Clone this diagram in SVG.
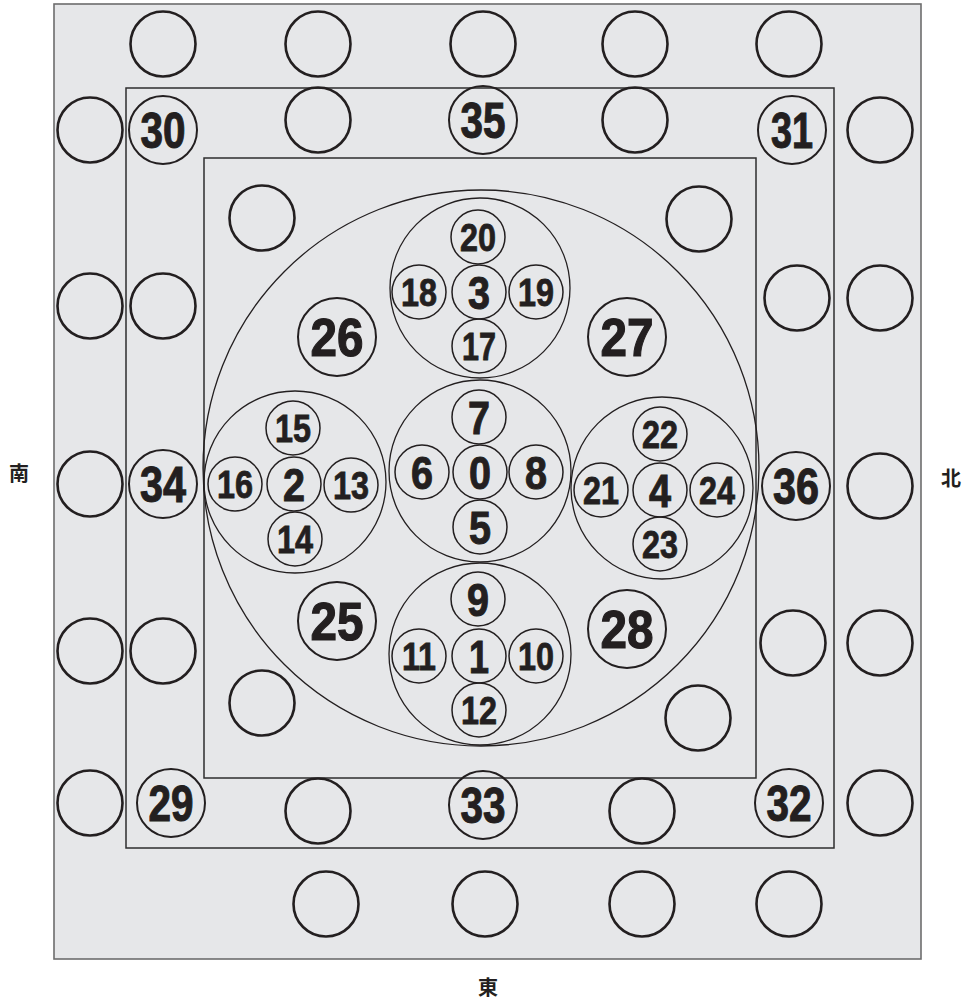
<svg xmlns="http://www.w3.org/2000/svg" width="970" height="1002" viewBox="0 0 970 1002">
<style>
.frame{fill:none;stroke:#2e2e2e;stroke-width:1.5}
.big{fill:none;stroke:#231f20;stroke-width:1.3}
.e{fill:none;stroke:#231f20;stroke-width:2.6}
.m{fill:none;stroke:#231f20;stroke-width:2}
.s{fill:none;stroke:#231f20;stroke-width:1.5}
text{font-family:"Liberation Sans",Arial,sans-serif;font-weight:bold;fill:#231f20;stroke:#231f20;stroke-width:0.9;text-anchor:middle}
.tl{font-size:54px;stroke-width:1.2}
.tm{font-size:50px;stroke-width:1.1}
.ts{font-size:38px;stroke-width:0.8}
.t1{font-size:46px;stroke-width:1}
.dir{font-family:"Noto Sans CJK JP","Noto Sans CJK SC",sans-serif;font-size:20px;font-weight:bold;stroke-width:0}
</style>
<rect x="0" y="0" width="970" height="1002" fill="#ffffff"/>
<rect x="54" y="4" width="867" height="955" fill="#e6e7e9" stroke="#6d6d6d" stroke-width="1.6"/>
<rect class="frame" x="126" y="88" width="708" height="760"/>
<rect class="frame" x="204" y="158" width="552" height="620"/>
<circle class="big" cx="481" cy="468" r="278"/>

<g id="empty-circles">
<circle class="e" cx="163" cy="44" r="32.5"/>
<circle class="e" cx="318" cy="44" r="32.5"/>
<circle class="e" cx="483" cy="44" r="32.5"/>
<circle class="e" cx="635" cy="44" r="32.5"/>
<circle class="e" cx="789" cy="44" r="32.5"/>
<circle class="e" cx="318" cy="120" r="32.5"/>
<circle class="e" cx="635" cy="120" r="32.5"/>
<circle class="e" cx="90" cy="130" r="32.5"/>
<circle class="e" cx="90" cy="306" r="32.5"/>
<circle class="e" cx="90" cy="484" r="32.5"/>
<circle class="e" cx="90" cy="651" r="32.5"/>
<circle class="e" cx="90" cy="803" r="32.5"/>
<circle class="e" cx="163" cy="306" r="32.5"/>
<circle class="e" cx="163" cy="651" r="32.5"/>
<circle class="e" cx="880" cy="130" r="32.5"/>
<circle class="e" cx="880" cy="298" r="32.5"/>
<circle class="e" cx="880" cy="486" r="32.5"/>
<circle class="e" cx="880" cy="643" r="32.5"/>
<circle class="e" cx="880" cy="803" r="32.5"/>
<circle class="e" cx="797" cy="298" r="32.5"/>
<circle class="e" cx="793" cy="643" r="32.5"/>
<circle class="e" cx="262" cy="218" r="32.5"/>
<circle class="e" cx="699" cy="219" r="32.5"/>
<circle class="e" cx="262" cy="703" r="32.5"/>
<circle class="e" cx="698" cy="718" r="32.5"/>
<circle class="e" cx="318" cy="811" r="32.5"/>
<circle class="e" cx="642" cy="811" r="32.5"/>
<circle class="e" cx="326" cy="904" r="32.5"/>
<circle class="e" cx="485" cy="904" r="32.5"/>
<circle class="e" cx="642" cy="904" r="32.5"/>
<circle class="e" cx="789" cy="904" r="32.5"/>
</g>

<g id="n30"><circle class="m" cx="163" cy="130" r="34"/><text class="tm" x="163" y="148" textLength="45" lengthAdjust="spacingAndGlyphs">30</text></g>
<g id="n35"><circle class="m" cx="483" cy="120" r="34"/><text class="tm" x="483" y="138" textLength="45" lengthAdjust="spacingAndGlyphs">35</text></g>
<g id="n31"><circle class="m" cx="792" cy="130" r="34"/><text class="tm" x="792" y="148" textLength="42" lengthAdjust="spacingAndGlyphs">31</text></g>
<g id="n34"><circle class="m" cx="163" cy="484" r="34"/><text class="tm" x="163" y="502" textLength="46" lengthAdjust="spacingAndGlyphs">34</text></g>
<g id="n36"><circle class="m" cx="796" cy="486" r="34"/><text class="tm" x="796" y="504" textLength="46" lengthAdjust="spacingAndGlyphs">36</text></g>
<g id="n29"><circle class="m" cx="171" cy="803" r="34"/><text class="tm" x="171" y="821" textLength="45" lengthAdjust="spacingAndGlyphs">29</text></g>
<g id="n33"><circle class="m" cx="483" cy="805" r="34"/><text class="tm" x="483" y="823" textLength="45" lengthAdjust="spacingAndGlyphs">33</text></g>
<g id="n32"><circle class="m" cx="789" cy="803" r="34"/><text class="tm" x="789" y="821" textLength="45" lengthAdjust="spacingAndGlyphs">32</text></g>

<g id="n26"><circle class="m" cx="337" cy="337" r="39"/><text class="tl" x="337" y="356" textLength="53" lengthAdjust="spacingAndGlyphs">26</text></g>
<g id="n27"><circle class="m" cx="627" cy="337" r="39"/><text class="tl" x="627" y="356" textLength="53" lengthAdjust="spacingAndGlyphs">27</text></g>
<g id="n25"><circle class="m" cx="337" cy="621" r="39"/><text class="tl" x="337" y="640" textLength="53" lengthAdjust="spacingAndGlyphs">25</text></g>
<g id="n28"><circle class="m" cx="627" cy="629" r="39"/><text class="tl" x="627" y="648" textLength="53" lengthAdjust="spacingAndGlyphs">28</text></g>

<g id="cluster3">
<circle class="big" cx="480" cy="288" r="90"/>
<g id="n20"><circle class="s" cx="478" cy="237" r="27"/><text class="ts" x="478" y="250.5" textLength="36" lengthAdjust="spacingAndGlyphs">20</text></g>
<g id="n18"><circle class="s" cx="419" cy="292" r="27"/><text class="ts" x="419" y="305.5" textLength="36" lengthAdjust="spacingAndGlyphs">18</text></g>
<g id="n3"><circle class="s" cx="479" cy="292" r="27"/><text class="t1" x="479" y="308.5" textLength="22" lengthAdjust="spacingAndGlyphs">3</text></g>
<g id="n19"><circle class="s" cx="536" cy="292" r="27"/><text class="ts" x="536" y="305.5" textLength="36" lengthAdjust="spacingAndGlyphs">19</text></g>
<g id="n17"><circle class="s" cx="479" cy="346" r="27"/><text class="ts" x="479" y="359.5" textLength="34" lengthAdjust="spacingAndGlyphs">17</text></g>
</g>

<g id="cluster2">
<circle class="big" cx="295" cy="482" r="91"/>
<g id="n15"><circle class="s" cx="293" cy="428" r="27"/><text class="ts" x="293" y="441.5" textLength="36" lengthAdjust="spacingAndGlyphs">15</text></g>
<g id="n16"><circle class="s" cx="235" cy="484" r="27"/><text class="ts" x="235" y="497.5" textLength="36" lengthAdjust="spacingAndGlyphs">16</text></g>
<g id="n2"><circle class="s" cx="294" cy="484" r="27"/><text class="t1" x="294" y="500.5" textLength="22" lengthAdjust="spacingAndGlyphs">2</text></g>
<g id="n13"><circle class="s" cx="351" cy="485" r="27"/><text class="ts" x="351" y="498.5" textLength="36" lengthAdjust="spacingAndGlyphs">13</text></g>
<g id="n14"><circle class="s" cx="295" cy="539" r="27"/><text class="ts" x="295" y="552.5" textLength="36" lengthAdjust="spacingAndGlyphs">14</text></g>
</g>

<g id="cluster0">
<circle class="big" cx="480" cy="471" r="91"/>
<g id="n7"><circle class="s" cx="479" cy="417" r="27"/><text class="t1" x="479" y="433.5" textLength="22" lengthAdjust="spacingAndGlyphs">7</text></g>
<g id="n6"><circle class="s" cx="422" cy="472" r="27"/><text class="t1" x="422" y="488.5" textLength="22" lengthAdjust="spacingAndGlyphs">6</text></g>
<g id="n0"><circle class="s" cx="480" cy="472" r="27"/><text class="t1" x="480" y="488.5" textLength="22" lengthAdjust="spacingAndGlyphs">0</text></g>
<g id="n8"><circle class="s" cx="536" cy="472" r="27"/><text class="t1" x="536" y="488.5" textLength="22" lengthAdjust="spacingAndGlyphs">8</text></g>
<g id="n5"><circle class="s" cx="480" cy="527" r="27"/><text class="t1" x="480" y="543.5" textLength="22" lengthAdjust="spacingAndGlyphs">5</text></g>
</g>

<g id="cluster4">
<circle class="big" cx="662" cy="488" r="91"/>
<g id="n22"><circle class="s" cx="660" cy="434" r="27"/><text class="ts" x="660" y="447.5" textLength="36" lengthAdjust="spacingAndGlyphs">22</text></g>
<g id="n21"><circle class="s" cx="601" cy="490" r="27"/><text class="ts" x="601" y="503.5" textLength="36" lengthAdjust="spacingAndGlyphs">21</text></g>
<g id="n4"><circle class="s" cx="660" cy="490" r="27"/><text class="t1" x="660" y="506.5" textLength="22" lengthAdjust="spacingAndGlyphs">4</text></g>
<g id="n24"><circle class="s" cx="717" cy="490" r="27"/><text class="ts" x="717" y="503.5" textLength="36" lengthAdjust="spacingAndGlyphs">24</text></g>
<g id="n23"><circle class="s" cx="660" cy="544" r="27"/><text class="ts" x="660" y="557.5" textLength="36" lengthAdjust="spacingAndGlyphs">23</text></g>
</g>

<g id="cluster1">
<circle class="big" cx="480" cy="654" r="91"/>
<g id="n9"><circle class="s" cx="478" cy="599" r="27"/><text class="t1" x="478" y="615.5" textLength="22" lengthAdjust="spacingAndGlyphs">9</text></g>
<g id="n11"><circle class="s" cx="419" cy="656" r="27"/><text class="ts" x="419" y="669.5" textLength="34" lengthAdjust="spacingAndGlyphs">11</text></g>
<g id="n1"><circle class="s" cx="479" cy="656" r="27"/><text class="t1" x="479" y="672.5" textLength="20" lengthAdjust="spacingAndGlyphs">1</text></g>
<g id="n10"><circle class="s" cx="536" cy="656" r="27"/><text class="ts" x="536" y="669.5" textLength="36" lengthAdjust="spacingAndGlyphs">10</text></g>
<g id="n12"><circle class="s" cx="479" cy="710" r="27"/><text class="ts" x="479" y="723.5" textLength="36" lengthAdjust="spacingAndGlyphs">12</text></g>
</g>

<g id="connectors"></g>

<g id="directions">
<text class="dir" x="19" y="481">南</text>
<text class="dir" x="951" y="486">北</text>
<text class="dir" x="488" y="995">東</text>
</g>
</svg>
